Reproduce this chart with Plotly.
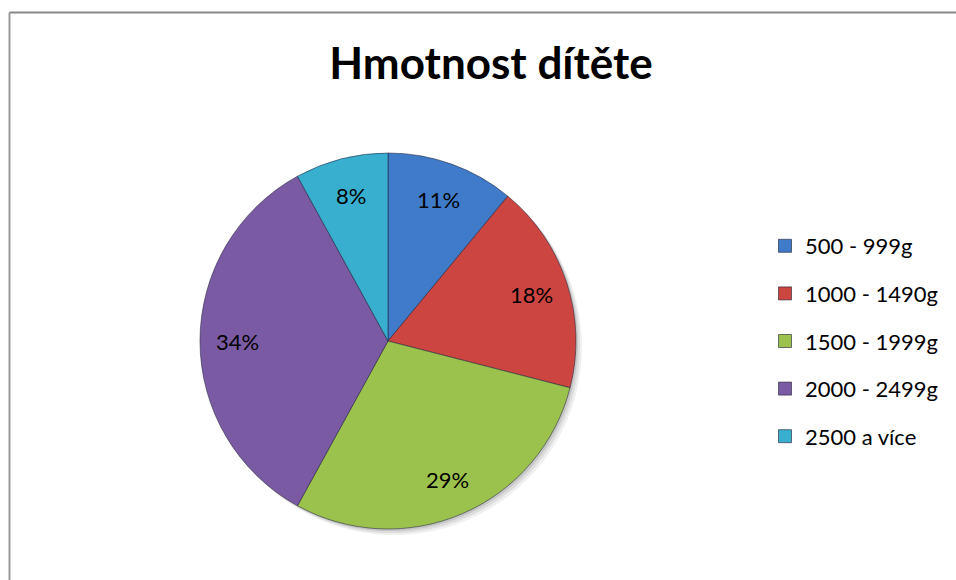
import math
import plotly.graph_objects as go

# Data: birth weight groups and their share (%)
categories = ["500 - 999g", "1000 - 1490g", "1500 - 1999g", "2000 - 2499g", "2500 a více"]
shares = [11, 18, 29, 34, 8]
colors = ["#3F7BC9", "#CD4541", "#9BC24C", "#7B5AA4", "#38AFCF"]

W, H = 956, 580
FONT = "Lato"

# Pie placement in pixels
CX, CY, R = 388, 341, 188

fig = go.Figure()

fig.add_trace(go.Pie(
    labels=categories,
    values=shares,
    sort=False,
    direction="clockwise",
    rotation=0,
    marker=dict(colors=colors, line=dict(color="rgba(35,35,60,0.55)", width=1)),
    textinfo="none",
    domain=dict(x=[(CX - R) / W, (CX + R) / W], y=[1 - (CY + R) / H, 1 - (CY - R) / H]),
    showlegend=False,
    hoverinfo="label+percent",
))

# Percentage labels placed along each slice's bisector, at 80 % of the radius
total = sum(shares)
annotations = []
start = 0.0
for v in shares:
    mid = (start + v / 2) / total * 2 * math.pi
    start += v
    px = CX + 0.8 * R * math.sin(mid)
    py = CY - 0.8 * R * math.cos(mid)
    annotations.append(dict(
        x=px / W, y=1 - py / H, xref="paper", yref="paper",
        text=f"{round(v / total * 100)}%", showarrow=False,
        font=dict(family=FONT, size=22, color="#000000"),
        xanchor="center", yanchor="middle",
    ))

# Legend entries as square markers, one group each for even spacing
for name, col in zip(categories, colors):
    fig.add_trace(go.Scatter(
        x=[None], y=[None], mode="markers", name=name, legendgroup=name,
        marker=dict(symbol="square", size=13, color=col,
                    line=dict(color="rgba(30,30,50,0.6)", width=1)),
        showlegend=True,
    ))

# soft drop shadow under the pie
shadow = []
for off, alpha in [(6, 0.06), (4, 0.08), (2, 0.10)]:
    shadow.append(dict(
        type="circle", xref="paper", yref="paper", layer="below",
        x0=(CX - R + off) / W, x1=(CX + R + off) / W,
        y0=1 - (CY + R + off) / H, y1=1 - (CY - R + off) / H,
        fillcolor=f"rgba(0,0,0,{alpha})", line=dict(width=0),
    ))

fig.update_layout(
    width=W, height=H,
    margin=dict(l=0, r=0, t=0, b=0),
    paper_bgcolor="white",
    plot_bgcolor="rgba(0,0,0,0)",
    font=dict(family=FONT, color="#000000"),
    title=dict(text="<b>Hmotnost dítěte</b>", x=491 / W, xanchor="center",
               y=1 - 64 / H, yanchor="middle",
               font=dict(family=FONT, size=44, color="#000000")),
    xaxis=dict(visible=False, domain=[0.99, 1.0]),
    yaxis=dict(visible=False, domain=[0.99, 1.0]),
    legend=dict(x=765 / W, xanchor="left", y=1 - 225 / H, yanchor="top",
                font=dict(family=FONT, size=22, color="#000000"),
                tracegroupgap=16, itemclick=False, bgcolor="rgba(0,0,0,0)"),
    annotations=annotations,
    shapes=shadow + [
        # chart area frame
        dict(type="line", xref="paper", yref="paper", x0=9.5 / W, x1=1.02, y0=1 - 12.5 / H, y1=1 - 12.5 / H,
             line=dict(color="#878787", width=2)),
        dict(type="line", xref="paper", yref="paper", x0=9.5 / W, x1=9.5 / W, y0=-0.02, y1=1 - 12.5 / H,
             line=dict(color="#9A9A9A", width=2)),
    ],
)

fig.write_html("out.html")
